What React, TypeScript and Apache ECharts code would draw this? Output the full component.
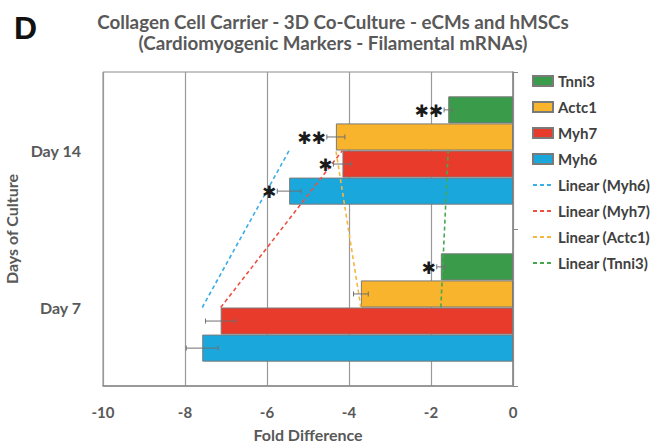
import React, { useEffect, useRef } from "react";
import * as echarts from "echarts";

const categories = ["Day 7", "Day 14"];
const seriesNames = ["Tnni3", "Actc1", "Myh7", "Myh6"];
const tnni3 = [-1.76, -1.58];
const actc1 = [-3.71, -4.32];
const myh7 = [-7.13, -4.16];
const myh6 = [-7.58, -5.46];
const tnni3Err = [0.1, 0.1];
const actc1Err = [0.18, 0.22];
const myh7Err = [0.37, 0.22];
const myh6Err = [0.39, 0.29];
const tnni3Stars = ["✱", "✱✱"];
const actc1Stars = ["", "✱✱"];
const myh7Stars = ["", "✱"];
const myh6Stars = ["", "✱"];
const xTicks = [-10, -8, -6, -4, -2, 0];

const barColors = ["#3a9c4a", "#f8b42c", "#e83b2c", "#1aa8dc"];
const lineColors = ["#45a84f", "#f6b640", "#ee5040", "#3aaee6"];

const FONT = "Lato, 'Open Sans', sans-serif";
const GAP = 0.31;

export default function App() {
  const ref = useRef<HTMLDivElement>(null);
  useEffect(() => {
    if (!ref.current) return;
    const chart = echarts.init(ref.current, null, { renderer: "svg" });
    const values = [tnni3, actc1, myh7, myh6];
    const errs = [tnni3Err, actc1Err, myh7Err, myh6Err];
    const stars = [tnni3Stars, actc1Stars, myh7Stars, myh6Stars];
    const errData: number[][] = [];
    const errStars: string[] = [];
    values.forEach((arr, s) => {
      arr.forEach((v, c) => {
        errData.push([v, c, s, errs[s][c]]);
        errStars.push(stars[s][c]);
      });
    });
    const trendOrder = [3, 2, 1, 0];
    const option: any = {
      animation: false,
      title: [
        {
          text: "D",
          left: 9,
          top: 7,
          textStyle: { fontSize: 32, fontWeight: "bold", color: "#111", fontFamily: "'Liberation Sans', Arial, sans-serif" },
        },
        {
          text: "Collagen Cell Carrier - 3D Co-Culture - eCMs and hMSCs\n(Cardiomyogenic Markers - Filamental mRNAs)",
          left: 328,
          top: 6,
          textAlign: "center",
          textStyle: { fontSize: 18.8, fontWeight: "bold", color: "#595959", fontFamily: FONT, lineHeight: 21 },
        },
      ],
      legend: {
        orient: "vertical",
        left: 527,
        top: 68,
        itemWidth: 20,
        itemHeight: 10,
        itemGap: 10,
        textStyle: { fontSize: 15, fontWeight: "bold", color: "#404040", fontFamily: FONT, lineHeight: 16 },
        data: [
          ...seriesNames.map((n) => ({ name: n, icon: "rect" })),
          ...trendOrder.map((i) => ({ name: `Linear (${seriesNames[i]})`, itemStyle: { opacity: 0 } })),
        ],
      },
      grid: { left: 103, right: 140, top: 72, bottom: 58, show: true, borderColor: "#8a8a8a", borderWidth: 1, outerBoundsMode: "none" },
      xAxis: {
        type: "value",
        min: xTicks[0],
        max: xTicks[xTicks.length - 1],
        interval: 2,
        name: "Fold Difference",
        nameLocation: "middle",
        nameGap: 40,
        nameTextStyle: { fontSize: 16, fontWeight: "bold", color: "#595959", fontFamily: FONT },
        axisLine: { show: true, lineStyle: { color: "#8a8a8a", width: 1.5 } },
        axisTick: { show: false },
        axisLabel: { margin: 18, fontSize: 15, fontWeight: "bold", color: "#595959", fontFamily: FONT },
        splitLine: { show: true, lineStyle: { color: "#999", width: 1.2 } },
      },
      yAxis: [
        {
          type: "category",
          data: categories,
          position: "left",
          name: "Days of Culture",
          nameLocation: "middle",
          nameRotate: 90,
          nameGap: 73,
          nameTextStyle: { fontSize: 16, fontWeight: "bold", color: "#595959", fontFamily: FONT },
          axisLine: { show: false },
          axisTick: { show: false },
          axisLabel: { margin: 22, fontSize: 16, fontWeight: "bold", color: "#595959", fontFamily: FONT },
        },
        {
          type: "category",
          data: categories,
          position: "right",
          axisLine: { show: true, lineStyle: { color: "#8a8a8a", width: 1.5 } },
          axisTick: { show: true, length: 5, lineStyle: { color: "#8a8a8a" } },
          axisLabel: { show: false },
        },
      ],
      series: [
        ...values.map((arr, s) => ({
          type: "bar",
          name: seriesNames[s],
          data: arr,
          yAxisIndex: 0,
          barGap: "0%",
          barCategoryGap: `${GAP * 100}%`,
          itemStyle: { color: barColors[s], borderColor: "#7a7a7a", borderWidth: 1 },
          z: 2,
        })),
        ...trendOrder.map((s) => ({
          type: "line",
          name: `Linear (${seriesNames[s]})`,
          data: values[s],
          yAxisIndex: 0,
          symbol: "none",
          color: lineColors[s],
          lineStyle: { color: lineColors[s], width: 1.6, type: [4, 3] },
          z: 3,
        })),
        {
          type: "custom",
          name: "errors",
          yAxisIndex: 0,
          z: 4,
          data: errData,
          encode: { x: 0, y: 1 },
          renderItem: (params: any, api: any) => {
            const v = api.value(0);
            const c = api.value(1);
            const s = api.value(2);
            const e = api.value(3);
            const p = api.coord([v, c]);
            const band = api.size([0, 1])[1];
            const bw = (band * (1 - GAP)) / 4;
            const y = p[1] - (band * (1 - GAP)) / 2 + bw * (s + 0.5);
            const x1 = api.coord([v - e, c])[0];
            const x2 = api.coord([v + e, c])[0];
            const st = { stroke: "#707070", lineWidth: 1 };
            const star = errStars[params.dataIndex];
            return {
              type: "group",
              children: [
                { type: "line", shape: { x1, y1: y, x2, y2: y }, style: st },
                { type: "line", shape: { x1, y1: y - 2.5, x2: x1, y2: y + 2.5 }, style: st },
                { type: "line", shape: { x1: x2, y1: y - 2.5, x2, y2: y + 2.5 }, style: st },
                {
                  type: "text",
                  style: {
                    text: star,
                    x: x1 - 1,
                    y: y + 1,
                    align: "right",
                    verticalAlign: "middle",
                    fill: "#1a1a1a",
                    font: "bold 17px 'DejaVu Sans', sans-serif",
                  },
                },
              ],
            };
          },
        },
      ],
    };
    chart.setOption(option);
    return () => chart.dispose();
  }, []);
  return <div ref={ref} style={{ position: "fixed", left: 0, top: 0, width: 653, height: 444, background: "#fff" }} />;
}
